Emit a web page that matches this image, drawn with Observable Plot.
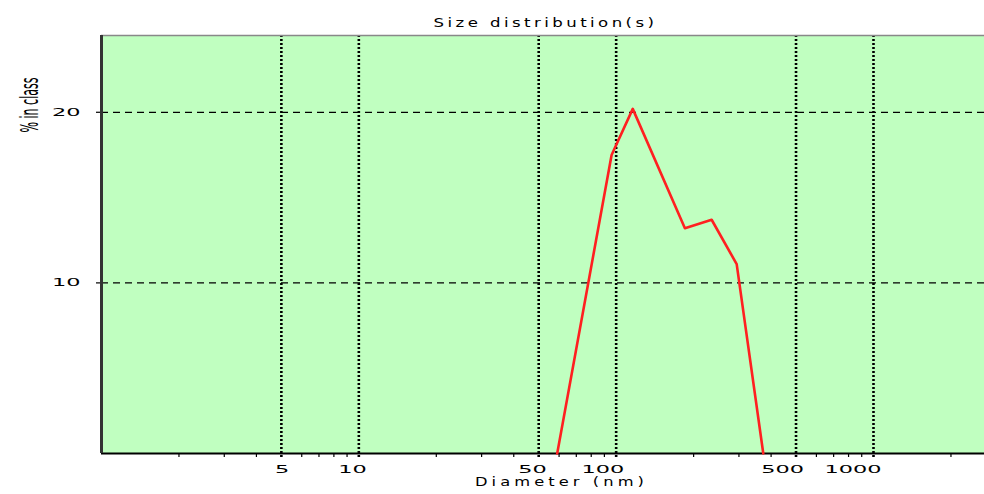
<!DOCTYPE html>
<html><head><meta charset="utf-8">
<script src="https://cdn.jsdelivr.net/npm/d3@7"></script>
<script src="https://cdn.jsdelivr.net/npm/@observablehq/plot@0.6"></script>
<style>
body{margin:0;background:#fff;}
#chart svg{display:block;}
</style>
</head><body><div id="chart"></div>
<script>
// Data
const diameters = [59, 96, 116, 185, 235, 294, 373];      // nm
const percents  = [0, 17.5, 20.2, 13.2, 13.7, 11.1, 0];    // % in class
const xMajorTicks = [5, 10, 50, 100, 500, 1000];
const xMinorTicks = [2,3,4,6,7,8,9,20,30,40,60,70,80,90,200,300,400,600,700,800,900,2000];
const yTicks = [10, 20];
const titleText = "Size distribution(s)";
const xLabel = "Diameter (nm)";
const yLabel = "% in class";

const data = diameters.map((d, i) => ({d, p: percents[i]}));
const FONT = "DejaVu Sans, sans-serif";

const chart = Plot.plot({
  width: 984,
  height: 494,
  marginLeft: 101,
  marginRight: 0,
  marginTop: 35,
  marginBottom: 41,
  style: {fontFamily: FONT, background: "#fff", overflow: "visible"},
  x: {type: "log", domain: [1, 2700], axis: null},
  y: {domain: [0, 24.5], axis: null},
  marks: [
    Plot.frame({fill: "#c0ffc0", stroke: null}),
    // dashed horizontal grid
    Plot.ruleY(yTicks, {stroke: "#000", strokeWidth: 1.3, strokeDasharray: "7,5"}),
    // dotted vertical grid
    Plot.ruleX(xMajorTicks, {stroke: "#000", strokeWidth: 2.6, strokeDasharray: "2,2", insetBottom: -4}),
    // minor x ticks
    Plot.axisX(xMinorTicks, {tickSize: 4, tickFormat: () => "", label: null, stroke: "#000", strokeWidth: 1.2}),
    // y ticks
    Plot.axisY(yTicks, {tickSize: 5, tickPadding: 16, label: null, fontSize: 11, fill: "#000", stroke: "#000", strokeWidth: 1.2}),
    // x tick labels
    Plot.text(xMajorTicks, {x: d => d, frameAnchor: "bottom", dy: 19, dx: 8, textAnchor: "end", text: d => String(d), fontSize: 11, fill: "#000"}),
    // frame borders
    Plot.ruleY([24.5], {stroke: "#888", strokeWidth: 1.5}),
    Plot.ruleY([0], {stroke: "#000", strokeWidth: 2}),
    Plot.ruleX([1], {stroke: "#333", strokeWidth: 3}),
    // distribution line
    Plot.line(data, {x: "d", y: "p", stroke: "#ff2020", strokeWidth: 2.6}),
    // title and axis labels
    Plot.text([titleText], {frameAnchor: "top", dy: -17, dx: 2.5, text: d => d, fontSize: 12, fill: "#000"}),
    Plot.text([xLabel], {frameAnchor: "bottom", dy: 32, dx: 18.5, text: d => d, fontSize: 12, fill: "#000"}),
    Plot.text([yLabel], {frameAnchor: "top-left", dx: -81, dy: 42, rotate: -90, textAnchor: "end", text: d => d, fontSize: 24, fill: "#000"})
  ]
});
document.getElementById("chart").appendChild(chart);

// stretch / space the lettering to mimic the bitmap fonts of the original
d3.select(chart).selectAll("text").each(function() {
  const s = d3.select(this);
  const t = s.text();
  if (!t) return;
  let len;
  if (t === yLabel) len = 55;
  else if (t === titleText) { len = 224; s.style("letter-spacing", "2.5px"); }
  else if (t === xLabel) { len = 173; s.style("letter-spacing", "3px"); }
  else len = 14.25 * t.length;
  s.attr("textLength", len).attr("lengthAdjust", "spacingAndGlyphs");
});
</script>
</body></html>
